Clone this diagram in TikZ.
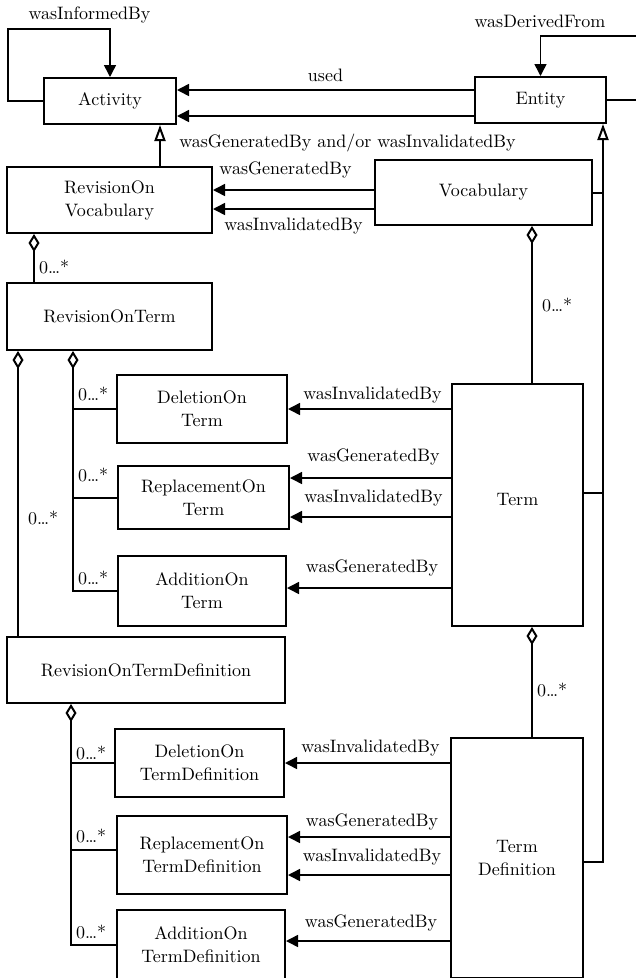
\documentclass[tikz,border=0pt]{standalone}
\usepackage{fontspec}
\setmainfont{lmroman10-regular.otf}
\usetikzlibrary{arrows.meta}

\tikzset{
    box/.style={rectangle,draw,line width=2pt,align=center,inner sep=0,font=\fontsize{18}{23}\selectfont},
    lbl/.style={inner sep=1pt,text depth=0pt,font=\fontsize{18}{23}\selectfont},
    mult/.style={lbl,anchor=south west,xshift=3pt},
    use/.style={line width=1.5pt,-{Triangle[length=12pt,width=12pt]}},
    isa/.style={line width=2pt,-{Triangle[open,length=16pt,width=11pt]}},
    part/.style={line width=2pt,{Diamond[open,length=18pt,width=11pt]}-},
    link/.style={line width=2pt}
    }

\begin{document}
\begin{tikzpicture}[x=1pt,y=-1pt]
    \useasboundingbox (0,0) rectangle (636,978);
    % The Classes
    \node(act)[box,minimum width=132pt,minimum height=46pt] at (110,101) {Activity};
    \node(ent)[box,minimum width=131pt,minimum height=46pt] at (540.5,100) {Entity};
    \node(rvoc)[box,minimum width=205pt,minimum height=66pt] at (109.5,200) {RevisionOn\\Vocabulary};
    \node(voc)[box,minimum width=217pt,minimum height=65pt] at (483.5,192.5) {Vocabulary};
    \node(rterm)[box,minimum width=205pt,minimum height=67pt] at (109.5,316.5) {RevisionOnTerm};
    \node(delterm)[box,minimum width=170pt,minimum height=68pt] at (202,409) {DeletionOn\\Term};
    \node(repterm)[box,minimum width=171pt,minimum height=63pt] at (203.5,497.5) {ReplacementOn\\Term};
    \node(addterm)[box,minimum width=168pt,minimum height=70pt] at (202,591) {AdditionOn\\Term};
    \node(term)[box,minimum width=131pt,minimum height=242pt] at (517.5,505) {\raisebox{12pt}{Term}};
    \node(rdef)[box,minimum width=278pt,minimum height=66pt] at (146,670) {RevisionOnTermDefinition};
    \node(deldef)[box,minimum width=169pt,minimum height=68pt] at (199.5,763) {DeletionOn\\TermDefinition};
    \node(repdef)[box,minimum width=170pt,minimum height=78pt] at (202,855) {ReplacementOn\\TermDefinition};
    \node(adddef)[box,minimum width=168pt,minimum height=70pt] at (201,945) {AdditionOn\\TermDefinition};
    \node(def)[box,minimum width=132pt,minimum height=240pt] at (517,858) {Term\\Definition};

    % The Loops
    \draw[use] (act.west) -| (8,29) -| (act.north);
    \node(informed)[lbl,anchor=base] at (89.5,19) {wasInformedBy};
    \draw[use] (ent.east) -| (645,36) -| (ent.north);
    \node(derived)[lbl,anchor=base] at (540,27) {wasDerivedFrom};

    % The Uses
    \draw[use] (ent.west |- 0,90) -- (act.east |- 0,90) node[lbl,midway,above=7pt]{used};
    \draw[use] (ent.west |- 0,116) -- (act.east |- 0,116) node[lbl,midway,below=16pt,xshift=22pt]{wasGeneratedBy and/or wasInvalidatedBy};
    \draw[use] (voc.west |- 0,190) -- (rvoc.east |- 0,190) node[lbl,midway,above=14pt,xshift=-8pt]{wasGeneratedBy};
    \draw[use] (voc.west |- 0,209) -- (rvoc.east |- 0,209) node[lbl,midway,below=7pt]{wasInvalidatedBy};
    \draw[use] (term.west |- 0,409) -- (delterm.east |- 0,409) node[lbl,midway,above=8pt,xshift=3pt]{wasInvalidatedBy};
    \draw[use] (term.west |- 0,478) -- (repterm.east |- 0,478) node[lbl,midway,above=15pt,xshift=3pt]{wasGeneratedBy};
    \draw[use] (term.west |- 0,517) -- (repterm.east |- 0,517) node[lbl,midway,above=13pt,xshift=3pt]{wasInvalidatedBy};
    \draw[use] (term.west |- 0,588) -- (addterm.east |- 0,588) node[lbl,midway,above=14pt,xshift=3pt]{wasGeneratedBy};
    \draw[use] (def.west |- 0,763) -- (deldef.east |- 0,763) node[lbl,midway,above=9pt,xshift=3pt]{wasInvalidatedBy};
    \draw[use] (def.west |- 0,837) -- (repdef.east |- 0,837) node[lbl,midway,above=9pt,xshift=3pt]{wasGeneratedBy};
    \draw[use] (def.west |- 0,875) -- (repdef.east |- 0,875) node[lbl,midway,above=12pt,xshift=3pt]{wasInvalidatedBy};
    \draw[use] (def.west |- 0,941) -- (adddef.east |- 0,941) node[lbl,midway,above=12pt,xshift=3pt]{wasGeneratedBy};

    % The Generalisations
    \draw[isa] (rvoc.north -| 160,0) -- (act.south -| 160,0);
    \coordinate(trunk) at (603,493);
    \draw[isa] (def.east |- 0,862) -| (ent.south -| trunk);
    \draw[link] (voc.east) -- (voc.east -| trunk);
    \draw[link] (term.east |- trunk) -- (trunk);

    % The Aggregations
    \draw[part] (rvoc.south -| 34,0) -- (rterm.north -| 34,0) node[mult,yshift=7pt]{0…*};
    \draw[part] (voc.south -| 532,0) -- (term.north -| 532,0) node[lbl,midway,right=8pt]{0…*};
    \draw[part] (term.south -| 532,0) -- (def.north -| 532,0) node[lbl,midway,right=3pt,yshift=-8pt]{0…*};
    \draw[part] (rterm.south -| 18,0) -- (rdef.north -| 18,0) node[lbl,midway,right=8pt,yshift=-24pt]{0…*};
    \draw[part] (rterm.south -| 73,0) |- (addterm.west) node[mult,pos=0.5,yshift=5pt]{0…*};
    \draw[link] (delterm.west -| 73,0) -- (delterm.west) node[mult,pos=0,yshift=7pt]{0…*};
    \draw[link] (repterm.west -| 73,0) -- (repterm.west) node[mult,pos=0,yshift=14pt]{0…*};
    \draw[part] (rdef.south -| 71,0) |- (adddef.west) node[mult,pos=0.5,yshift=5pt]{0…*};
    \draw[link] (deldef.west -| 71,0) -- (deldef.west) node[mult,pos=0,yshift=2pt]{0…*};
    \draw[link] (71,850) -- (repdef.west |- 0,850) node[mult,pos=0,yshift=6pt]{0…*};
\end{tikzpicture}
\end{document}
